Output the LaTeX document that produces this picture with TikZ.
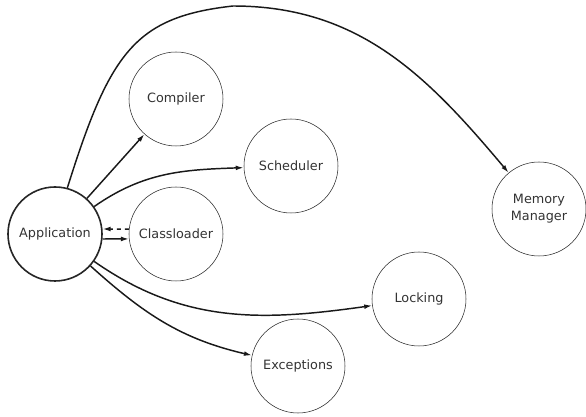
\documentclass[tikz,border=0pt]{standalone}
\usepackage{fontspec}
\setmainfont{DejaVu Sans}
\usepackage{xcolor}
\usetikzlibrary{arrows.meta}

\begin{document}
\begin{tikzpicture}[
    x=0.75pt, y=0.75pt,
    node distance=90.75pt,
    every node/.style={draw=black!85, circle, thin, minimum size=70.5pt, inner sep=0pt,
        align=center, text=black!80, font=\fontsize{9.6}{12.5}\selectfont},
    edge/.style={line width=1.1pt, black!90, -{Latex[length=6pt, width=3.6pt]}}
]
\useasboundingbox (0,0) rectangle (586,417);

\node (app) [line width=1.2pt] at (55,183) {Application};
\node (cls) [right of=app] {Classloader};
\node (comp) [above of=cls, node distance=101.25pt] {Compiler};
\node (sched) at (291,251) {Scheduler};
\node (mem) at (539,208) {Memory\\Manager};
\node (lock) at (419,118) {Locking};
\node (exc) at (298,51) {Exceptions};

\draw[edge] (app) -- (comp);
\draw[edge] (app) to[out=35, in=182] (sched);
\draw[edge] (app.-6) -- (cls.186);
\draw[edge, dashed] (cls.174) -- (app.6);
\draw[edge] (app) to[out=-35, in=188] (lock);
\draw[edge] (app) to[out=-42, in=167] (exc);
\draw[edge] (app.75) .. controls (110,365) and (135,400) .. (233,411) to[out=0, in=130] (mem);

\end{tikzpicture}
\end{document}
